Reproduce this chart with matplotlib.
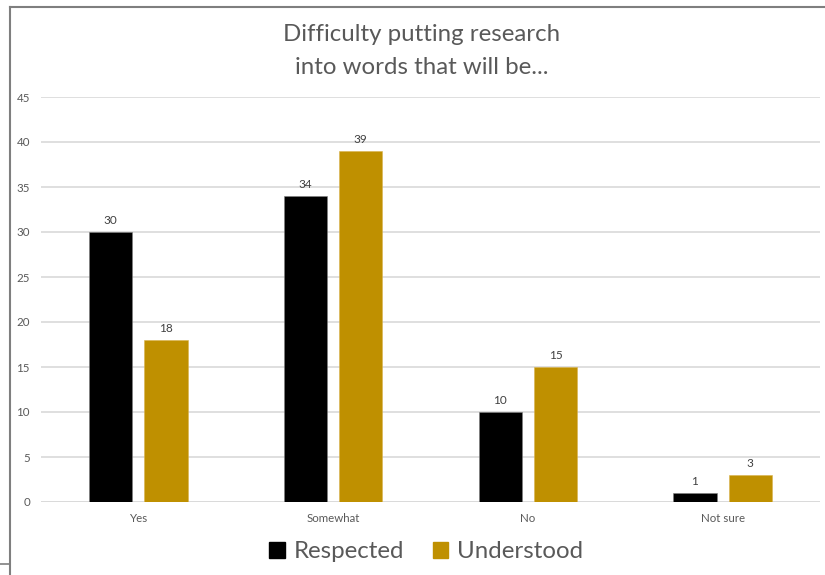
import matplotlib
matplotlib.use("Agg")
import matplotlib.pyplot as plt
from matplotlib.lines import Line2D
from matplotlib.patches import Patch
import numpy as np

categories = ["Yes", "Somewhat", "No", "Not sure"]
respected = [30, 34, 10, 1]
understood = [18, 39, 15, 3]
series_names = ["Respected", "Understood"]
yticks = [0, 5, 10, 15, 20, 25, 30, 35, 40, 45]

BLACK = "#000000"
GOLD = "#BF9000"
TEXT = "#595959"
LABEL = "#404040"
GRID = "#D9D9D9"

plt.rcParams["font.family"] = ["Lato", "DejaVu Sans"]

W, H = 825, 575
fig = plt.figure(figsize=(W / 100, H / 100), dpi=100)
ax = fig.add_axes([41 / W, 1 - 502 / H, (820 - 41) / W, (502 - 97) / H])

x = np.arange(len(categories))
bw = 0.223
off = 0.142
b1 = ax.bar(x - off, respected, bw, color=BLACK, edgecolor="#7f7f7f", linewidth=0.4, zorder=3)
b2 = ax.bar(x + off, understood, bw, color=GOLD, edgecolor="#D9B34D", linewidth=0.4, zorder=3)

for bars, vals in ((b1, respected), (b2, understood)):
    for rect, v in zip(bars, vals):
        ax.annotate(str(v), (rect.get_x() + rect.get_width() / 2, v),
                    xytext=(0, 4), textcoords="offset points",
                    ha="center", va="bottom", fontsize=8.5, color=LABEL)

ax.set_xlim(-0.5, len(categories) - 0.5)
ax.set_ylim(0, 45)
ax.set_yticks(yticks)
ax.set_xticks(x)
ax.set_xticklabels(categories)
ax.tick_params(axis="both", length=0, labelsize=8.3, labelcolor=TEXT)
ax.tick_params(axis="y", pad=8)
ax.tick_params(axis="x", pad=8)
ax.yaxis.grid(True, color=GRID, linewidth=1.2, zorder=0)
ax.set_axisbelow(True)
for s in ax.spines.values():
    s.set_visible(False)
ax.axhline(0, color=GRID, linewidth=1.2, zorder=2)

fig.text(422 / W, 1 - 51 / H, "Difficulty putting research\ninto words that will be...",
         ha="center", va="center", fontsize=17.3, color=TEXT, linespacing=1.7)

handles = [Patch(facecolor=BLACK, edgecolor=BLACK), Patch(facecolor=GOLD, edgecolor=GOLD)]
fig.legend(handles, series_names, loc="center", bbox_to_anchor=(426 / W, 1 - 552 / H),
           ncol=2, frameon=False, fontsize=17.3, labelcolor=TEXT,
           handlelength=0.65, handleheight=0.65, handletextpad=0.35, columnspacing=1.2)

# outer frame lines
frame = "#7f7f7f"
fig.add_artist(Line2D([9.5 / W, 9.5 / W], [0, 1 - 7 / H], color=frame, linewidth=1.5,
                      transform=fig.transFigure))
fig.add_artist(Line2D([9.5 / W, 1], [1 - 7 / H, 1 - 7 / H], color=frame, linewidth=1.5,
                      transform=fig.transFigure))
fig.add_artist(Line2D([0, 9.5 / W], [1 - 564 / H, 1 - 564 / H], color=frame, linewidth=1.2,
                      transform=fig.transFigure))

fig.savefig("out.png", dpi=100, facecolor="white")
